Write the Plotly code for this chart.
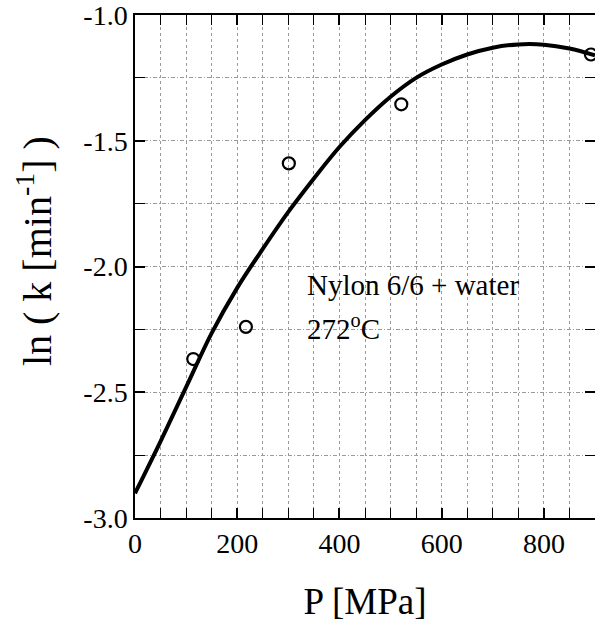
import plotly.graph_objects as go

# Fitted curve
curve_p = [0, 50, 100, 150, 200, 250, 300, 350, 400, 450, 500, 550, 600, 650, 700, 750, 800, 850, 900]
curve_lnk = [-2.902, -2.695, -2.480, -2.265, -2.085, -1.930, -1.783, -1.650, -1.525, -1.418,
             -1.325, -1.250, -1.197, -1.157, -1.130, -1.117, -1.118, -1.133, -1.160]

# Measured points
pts_p = [114, 217, 301, 521, 892]
pts_lnk = [-2.368, -2.240, -1.590, -1.355, -1.157]

x_tickvals = [0, 200, 400, 600, 800]
x_ticktext = ["0", "200", "400", "600", "800"]
y_tickvals = [-3.0, -2.5, -2.0, -1.5, -1.0]
y_ticktext = ["-3.0", "-2.5", "-2.0", "-1.5", "-1.0"]

FONT = "Liberation Serif"
GRID = "#9a9a9a"

fig = go.Figure()
fig.add_trace(go.Scatter(x=curve_p, y=curve_lnk, mode="lines", line=dict(color="black", width=4, shape="spline"),
                         showlegend=False, hoverinfo="skip"))
fig.add_trace(go.Scatter(x=pts_p, y=pts_lnk, mode="markers",
                         marker=dict(symbol="circle-open", size=12, color="black", line=dict(width=2.2, color="black")),
                         showlegend=False))
# invisible trace for right-side tick axis
fig.add_trace(go.Scatter(x=[0], y=[-3], yaxis="y2", mode="markers", marker=dict(opacity=0), showlegend=False, hoverinfo="skip"))

fig.update_layout(
    width=595, height=622,
    margin=dict(l=135, r=0, t=15, b=104),
    plot_bgcolor="white", paper_bgcolor="white",
    font=dict(family=FONT, color="black", size=28),
    xaxis=dict(
        range=[0, 900], tickmode="array", tickvals=x_tickvals, ticktext=x_ticktext,
        ticks="inside", ticklen=10, tickwidth=1.5, tickcolor="black",
        showline=True, linecolor="black", linewidth=1.5, mirror="ticks",
        showgrid=True, gridcolor=GRID, gridwidth=1, griddash="dot",
        minor=dict(dtick=50, tick0=0, ticks="inside", ticklen=10, tickwidth=1.2, tickcolor="black",
                   showgrid=True, gridcolor=GRID, gridwidth=1, griddash="dot"),
        tickfont=dict(size=28, family=FONT, color="black"), zeroline=False,
        ticklabeloverflow="allow",
        title=dict(text="P [MPa]", font=dict(size=37, family=FONT, color="black"), standoff=33),
        automargin=False,
    ),
    yaxis=dict(
        range=[-3, -1], tickmode="array", tickvals=y_tickvals, ticktext=y_ticktext,
        ticks="inside", ticklen=10, tickwidth=1.5, tickcolor="black",
        showline=True, linecolor="black", linewidth=1.5,
        showgrid=True, gridcolor=GRID, gridwidth=1, griddash="4px,2px,1px,2px",
        minor=dict(dtick=0.25, tick0=-3, ticks="inside", ticklen=10, tickwidth=1.2, tickcolor="black",
                   showgrid=True, gridcolor=GRID, gridwidth=1, griddash="4px,2px,1px,2px"),
        tickfont=dict(size=28, family=FONT, color="black"), zeroline=False,
        ticklabeloverflow="allow",
        automargin=False,
    ),
    yaxis2=dict(
        range=[-3, -1], overlaying="y", side="right", anchor="x",
        tickmode="array", tickvals=y_tickvals,
        ticks="inside", ticklen=10, tickwidth=1.5, tickcolor="black",
        showline=False, showgrid=False, zeroline=False, showticklabels=False,
        minor=dict(dtick=0.25, tick0=-3, ticks="inside", ticklen=10, tickwidth=1.2, tickcolor="black"),
    ),
    annotations=[
        dict(x=-0.217, y=0.531, xref="paper", yref="paper", text="ln ( k [min<sup>-1</sup>] )",
             textangle=-90, showarrow=False, xanchor="center", yanchor="middle",
             font=dict(size=40, family=FONT, color="black")),
        dict(x=332, y=-2.147, xref="x", yref="y", text="Nylon 6/6 + water", showarrow=False,
             xanchor="left", yanchor="bottom", font=dict(size=29, family=FONT, color="black")),
        dict(x=332, y=-2.322, xref="x", yref="y", text="272<sup>o</sup>C", showarrow=False,
             xanchor="left", yanchor="bottom", font=dict(size=29, family=FONT, color="black")),
    ],
)

fig.write_html("out.html", config={"displayModeBar": False},
               post_script="document.body.style.margin='0';document.body.style.overflow='hidden';")
